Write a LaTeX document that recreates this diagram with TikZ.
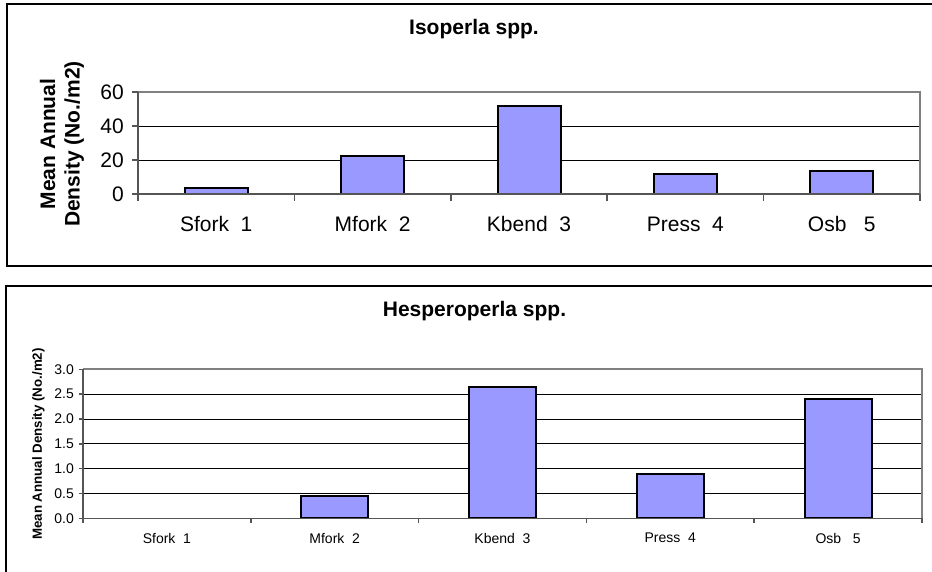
\documentclass[tikz,border=0pt]{standalone}
\usepackage{fontspec}
\setmainfont{Liberation Sans}
\definecolor{barfill}{HTML}{9999FF}
\definecolor{bordergray}{HTML}{808080}
\definecolor{axisgray}{HTML}{555555}
\begin{document}
\begin{tikzpicture}[x=1pt,y=-1pt,
  frame/.style={draw=black, line width=1.2pt},
  gridline/.style={draw=black, line width=0.9pt},
  plotborder/.style={draw=bordergray, line width=1.8pt},
  axisline/.style={draw=axisgray, line width=1.5pt},
  bar/.style={draw=black, fill=barfill, line width=2pt},
  bigtick/.style={anchor=east, inner sep=0pt, font=\fontsize{21}{24}\selectfont},
  bigcat/.style={anchor=center, inner sep=0pt, font=\fontsize{21}{24}\selectfont},
  smalltick/.style={anchor=east, inner sep=0pt, font=\fontsize{14}{16}\selectfont},
  smallcat/.style={anchor=center, inner sep=0pt, font=\fontsize{14}{16}\selectfont},
  charttitle/.style={anchor=center, inner sep=0pt, font=\fontsize{21}{24}\selectfont\bfseries},
  bigylabel/.style={anchor=center, inner sep=0pt, rotate=90, align=center, font=\fontsize{21}{24.5}\selectfont\bfseries},
  smallylabel/.style={anchor=center, inner sep=0pt, rotate=90, font=\fontsize{13.3}{15}\selectfont\bfseries}
]
\useasboundingbox (0,0) rectangle (932,571);
\clip (0,0) rectangle (932,571);

% ================= Top chart: Isoperla spp. =================
\draw[frame] (7,4) rectangle (940,266);
\node[charttitle] (t1) at (474,29) {Isoperla spp.};
\node[bigylabel] (y1) at (62,144) {Mean Annual\\Density (No./m2)};

% gridlines
\foreach \v in {20,40} {
  \draw[gridline] (138,{194-1.7*\v}) -- (920,{194-1.7*\v});
}
% plot area border (top, right)
\draw[plotborder] (138,92) -- (920,92) -- (920,194);
% bars
\foreach \k/\val in {1/3.5, 2/22.4, 3/51.8, 4/11.8, 5/13.5} {
  \pgfmathsetmacro{\cx}{138+(\k-0.5)*156.4}
  \draw[bar] ({\cx-31.5},194) rectangle ({\cx+31.5},{194-1.7*\val});
}
% axes
\draw[axisline] (138,92) -- (138,194) -- (920,194);
\foreach \v in {0,20,40,60} {
  \draw[axisline] (132,{194-1.7*\v}) -- (138,{194-1.7*\v});
}
\foreach \k in {0,...,5} {
  \draw[axisline] ({138+\k*156.4},194) -- ({138+\k*156.4},201);
}
\node[bigtick] (a60) at (124,92) {60};
\node[bigtick] (a40) at (124,126) {40};
\node[bigtick] (a20) at (124,160) {20};
\node[bigtick] (a0) at (124,194) {0};
\node[bigcat] (c11) at (216.2,224) {Sfork\ \ 1};
\node[bigcat] (c12) at (372.6,224) {Mfork\ \ 2};
\node[bigcat] (c13) at (529,224) {Kbend\ \ 3};
\node[bigcat] (c14) at (685.4,224) {Press\ \ 4};
\node[bigcat] (c15) at (841.8,224) {Osb\ \ \ 5};

% ================= Bottom chart: Hesperoperla spp. =================
\draw[frame] (6,286) rectangle (940,580);
\node[charttitle] (t2) at (474.5,311) {Hesperoperla spp.};
\node[smallylabel] (y2) at (38.5,444) {Mean Annual Density (No./m2)};

\foreach \v in {0.5,1.0,1.5,2.0,2.5} {
  \draw[gridline] (83,{518.3-49.67*\v}) -- (922,{518.3-49.67*\v});
}
\draw[plotborder] (83,369.3) -- (922,369.3) -- (922,518.3);
\foreach \k/\val in {2/0.45, 3/2.64, 4/0.89, 5/2.40} {
  \pgfmathsetmacro{\cx}{83+(\k-0.5)*167.8}
  \draw[bar] ({\cx-33.6},518.3) rectangle ({\cx+33.6},{518.3-49.67*\val});
}
\draw[axisline] (83,369.3) -- (83,518.3) -- (922,518.3);
\foreach \v in {0,0.5,1.0,1.5,2.0,2.5,3.0} {
  \draw[axisline] (79,{518.3-49.67*\v}) -- (83,{518.3-49.67*\v});
}
\foreach \k in {0,...,5} {
  \draw[axisline] ({83+\k*167.8},518.3) -- ({83+\k*167.8},523);
}
\node[smalltick] (b30) at (74,369.3) {3.0};
\node[smalltick] (b25) at (74,394.1) {2.5};
\node[smalltick] (b20) at (74,419.0) {2.0};
\node[smalltick] (b15) at (74,443.8) {1.5};
\node[smalltick] (b10) at (74,468.6) {1.0};
\node[smalltick] (b05) at (74,493.5) {0.5};
\node[smalltick] (b00) at (74,518.3) {0.0};
\node[smallcat] (c21) at (166.9,538) {Sfork\ \ 1};
\node[smallcat] (c22) at (334.7,538) {Mfork\ \ 2};
\node[smallcat] (c23) at (502.5,538) {Kbend\ \ 3};
\node[smallcat] (c24) at (670.3,538) {Press\ \ 4};
\node[smallcat] (c25) at (838.1,538) {Osb\ \ \ 5};
\end{tikzpicture}
\end{document}
